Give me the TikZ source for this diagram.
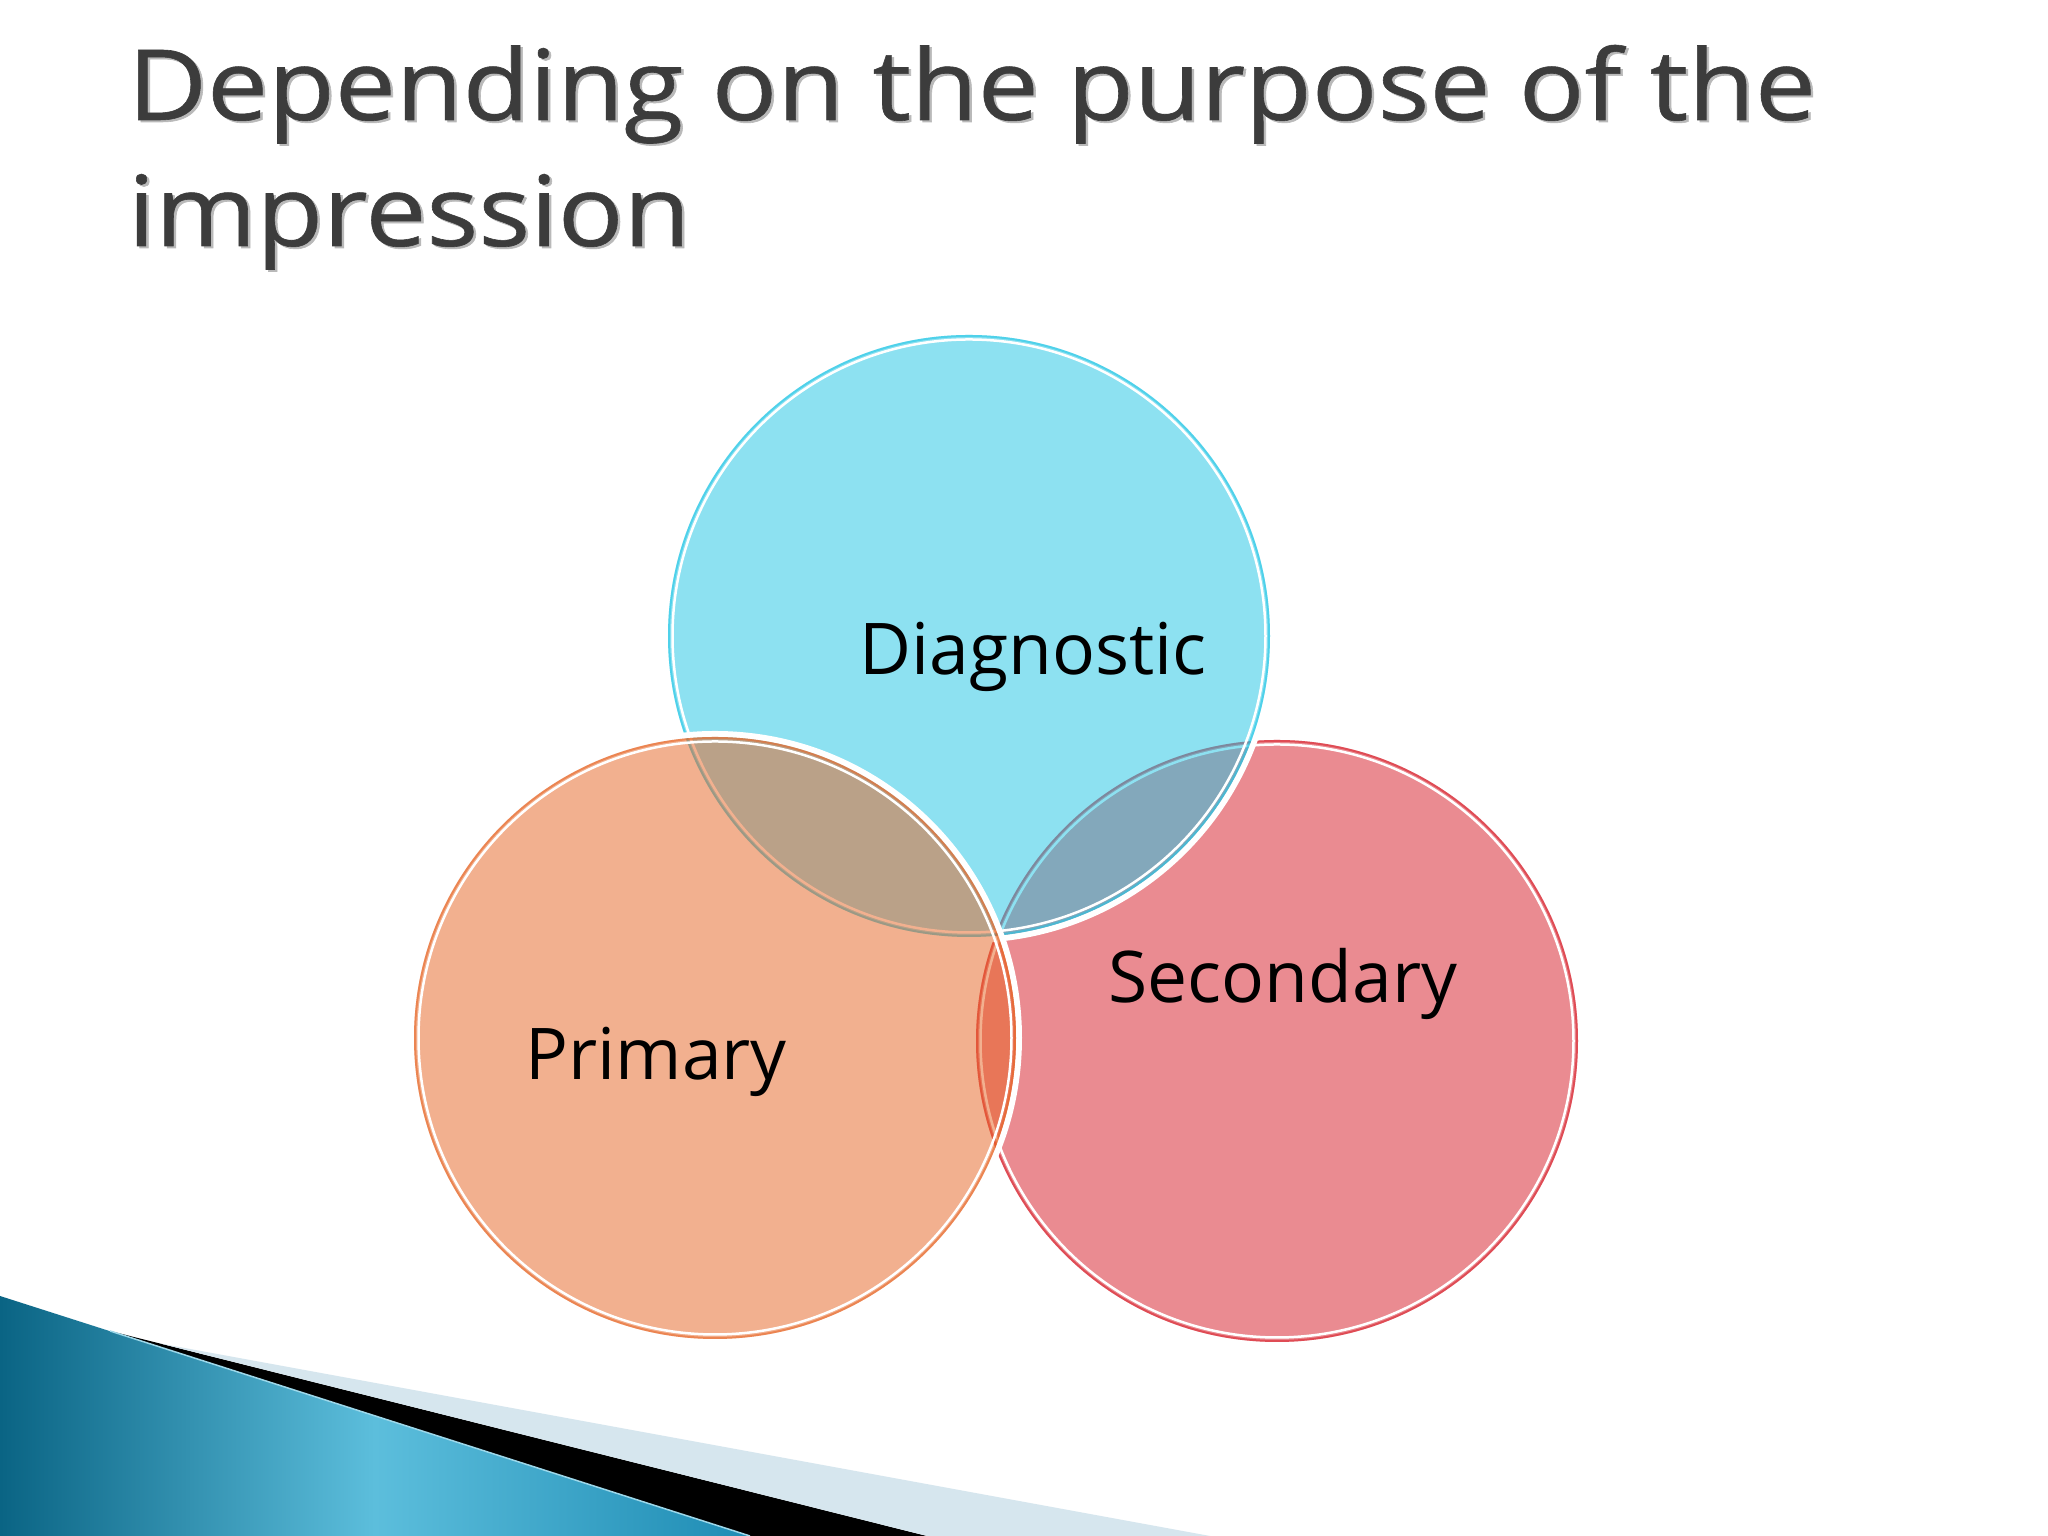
\documentclass[tikz,border=0pt]{standalone}
\usepackage{fontspec}
\newfontfamily\titlefont[FakeStretch=1.11,FakeBold=0.6]{Open Sans}
\newfontfamily\labelfont{Open Sans}
\usetikzlibrary{calc}

\definecolor{titlegray}{RGB}{60,60,60}
\definecolor{shadowgray}{RGB}{185,185,185}
\definecolor{diagbase}{RGB}{29,197,229}
\definecolor{primbase}{RGB}{231,99,33}
\definecolor{secbase}{RGB}{215,25,37}
\definecolor{tealdark}{RGB}{10,100,132}
\definecolor{teallight}{RGB}{92,190,220}
\definecolor{tealright}{RGB}{30,140,180}
\definecolor{stripe}{RGB}{214,230,238}

\tikzset{
  titletext/.style={anchor=base west, inner sep=0pt, text=titlegray,
    font=\titlefont\fontsize{27.9}{34}\selectfont},
  circlabel/.style={anchor=base west, inner sep=0pt, text=black,
    font=\labelfont\fontsize{20.3}{24}\selectfont}
}

\begin{document}
\begin{tikzpicture}
    \useasboundingbox (0,0) rectangle (20.48,15.36);
    \fill[white] (0,0) rectangle (20.48,15.36);

    % Ecke unten links
    \shade[left color=tealdark, right color=tealright, middle color=teallight]
        (0,2.40) -- (7.50,0) -- (0,0) -- cycle;
    \fill[black] (1.10,2.05) -- (9.27,0) -- (7.50,0) -- cycle;
    \fill[stripe] (1.60,1.925) -- (12.10,0) -- (9.27,0) -- cycle;
    \draw[teallight!60!white, line width=.015cm] (1.10,2.05) -- (7.50,0);

    % Titel
    \node[titletext, text=shadowgray] (titleAshadow) at (1.295,14.14) {Depending on the purpose of the};
    \node[titletext, text=shadowgray] (titleBshadow) at (1.295,12.88) {impression};
    \node[titletext] (titleA) at (1.27,14.16) {Depending on the purpose of the};
    \node[titletext] (titleB) at (1.27,12.90) {impression};

    % Kreise
    \foreach \x/\y/\col in {12.77/4.95/secbase, 9.69/9.00/diagbase, 7.15/4.98/primbase}{
        \draw[white, line width=.06cm] (\x,\y) circle (3.04);
        \fill[\col, fill opacity=.5] (\x,\y) circle (3.01);
        \draw[\col, draw opacity=.55, line width=.02cm] (\x,\y) circle (3.00);
        \draw[white, line width=.025cm] (\x,\y) circle (2.965);
    }

    % Beschriftung
    \node[circlabel] (diag) at (8.59,8.61) {Diagnostic};
    \node[circlabel] (sec) at (11.08,5.33) {Secondary};
    \node[circlabel] (prim) at (5.25,4.56) {Primary};
\end{tikzpicture}
\end{document}
